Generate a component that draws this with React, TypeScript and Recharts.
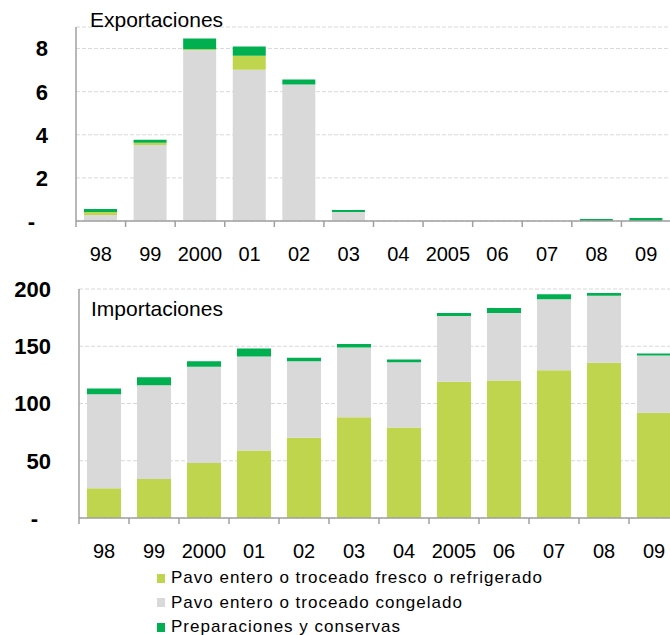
import { BarChart, Bar, XAxis, YAxis, CartesianGrid, Legend } from 'recharts'

const YEARS = ['98', '99', '2000', '01', '02', '03', '04', '2005', '06', '07', '08', '09']

// exportaciones
const EXP_CONGELADO = [0.28, 3.53, 7.92, 7.02, 6.33, 0.42, 0, 0, 0, 0, 0, 0]
const EXP_FRESCO = [0.14, 0.1, 0.05, 0.65, 0, 0, 0, 0, 0, 0, 0, 0]
const EXP_PREPARACIONES = [0.14, 0.14, 0.5, 0.42, 0.23, 0.09, 0, 0, 0, 0, 0.09, 0.14]

// importaciones
const IMP_FRESCO = [26, 34, 48, 59, 70, 88, 79, 119, 120, 129, 135.5, 92]
const IMP_CONGELADO = [82, 82, 84, 82, 67, 61, 57, 57.5, 59, 62, 58.5, 50]
const IMP_PREPARACIONES = [5, 7, 5, 7, 3, 3, 2.5, 2.6, 4.5, 4.5, 2.6, 1.7]

const EXP_TICKS = [0, 2, 4, 6, 8]
const IMP_TICKS = [0, 50, 100, 150, 200]

const SERIES_NAMES = {
  fresco: 'Pavo entero o troceado fresco o refrigerado',
  congelado: 'Pavo entero o troceado congelado',
  prep: 'Preparaciones y conservas',
}

const LIME = '#C0D54E'
const GRAY = '#D9D9D9'
const GREEN = '#00B050'
const AXIS = '#A0A0A0'
const FONT = '"Liberation Sans", Arial, sans-serif'

const expData = YEARS.map((y, i) => ({
  year: y, fresco: EXP_FRESCO[i], congelado: EXP_CONGELADO[i], prep: EXP_PREPARACIONES[i],
}))
const impData = YEARS.map((y, i) => ({
  year: y, fresco: IMP_FRESCO[i], congelado: IMP_CONGELADO[i], prep: IMP_PREPARACIONES[i],
}))

const YTick = ({ x, y, payload }: any) => {
  const zero = payload.value === 0
  return (
    <text x={x} y={y} dx={zero ? -33 : -20} dy='0.36em' textAnchor='end'
      fontFamily={FONT} fontSize={22} fontWeight='bold' fill='#000'>
      {zero ? '-' : payload.value}
    </text>
  )
}

const makeXTick = (band: number) => ({ x, y, payload }: any) => (
  <g>
    <line x1={x - band / 2} x2={x - band / 2} y1={y} y2={y + 6} stroke={AXIS} strokeWidth={1.5} />
    <text x={x} y={y + 40} textAnchor='middle' fontFamily={FONT} fontSize={20} fill='#000'>
      {payload.value}
    </text>
  </g>
)

const legendContent = () => (
  <div style={{ fontFamily: FONT, fontSize: 17, letterSpacing: 1, color: '#000', paddingTop: 3 }}>
    {[['fresco', LIME], ['congelado', GRAY], ['prep', GREEN]].map(([k, c]) => (
      <div key={k} style={{ height: 24.5, display: 'flex', alignItems: 'center', whiteSpace: 'nowrap' }}>
        <span style={{ display: 'inline-block', width: 8, height: 9, background: c, marginRight: 6 }} />
        {(SERIES_NAMES as any)[k]}
      </div>
    ))}
  </div>
)

const title = (text: string, left: number, top: number) => (
  <div style={{ position: 'absolute', left, top, fontFamily: FONT, fontSize: 21, color: '#000', zIndex: 2 }}>
    {text}
  </div>
)

export default function App() {
  return (
    <div style={{ position: 'absolute', left: 0, top: 0, width: 670, height: 635, overflow: 'hidden', background: '#fff' }}>
      <div style={{ position: 'absolute', left: 0, top: 0 }}>
        <BarChart width={720} height={265} data={expData}
          margin={{ top: 27, right: 49, left: 0, bottom: 0 }}>
          <CartesianGrid vertical={false} stroke={GRAY} strokeDasharray='4 2' />
          <XAxis dataKey='year' height={44} tickSize={0} tickMargin={0} interval={0}
            stroke={AXIS} strokeWidth={1.5} tick={makeXTick(595 / 12)} />
          <YAxis width={76} domain={[0, 9]} ticks={EXP_TICKS} tickLine={false}
            stroke={AXIS} strokeWidth={1.5} tick={<YTick />} />
          <Bar dataKey='congelado' stackId='a' fill={GRAY} barSize={33} isAnimationActive={false} />
          <Bar dataKey='fresco' stackId='a' fill={LIME} barSize={33} isAnimationActive={false} />
          <Bar dataKey='prep' stackId='a' fill={GREEN} barSize={33} isAnimationActive={false} />
        </BarChart>
      </div>
      {title('Exportaciones', 90, 8)}

      <div style={{ position: 'absolute', left: 0, top: 260 }}>
        <BarChart width={720} height={380} data={impData}
          margin={{ top: 29, right: 41, left: 0, bottom: 0 }}>
          <CartesianGrid vertical={false} stroke={GRAY} strokeDasharray='4 2' />
          <XAxis dataKey='year' height={45} tickSize={0} tickMargin={0} interval={0}
            stroke={AXIS} strokeWidth={1.5} tick={makeXTick(50)} />
          <YAxis width={79} domain={[0, 200]} ticks={IMP_TICKS} tickLine={false}
            stroke={AXIS} strokeWidth={1.5} tick={<YTick />} />
          <Legend verticalAlign='bottom' content={legendContent}
            wrapperStyle={{ left: 157, width: 'auto', height: 77 }} />
          <Bar dataKey='fresco' stackId='b' fill={LIME} barSize={34} isAnimationActive={false} />
          <Bar dataKey='congelado' stackId='b' fill={GRAY} barSize={34} isAnimationActive={false} />
          <Bar dataKey='prep' stackId='b' fill={GREEN} barSize={34} isAnimationActive={false} />
        </BarChart>
      </div>
      {title('Importaciones', 91, 297)}
    </div>
  )
}
